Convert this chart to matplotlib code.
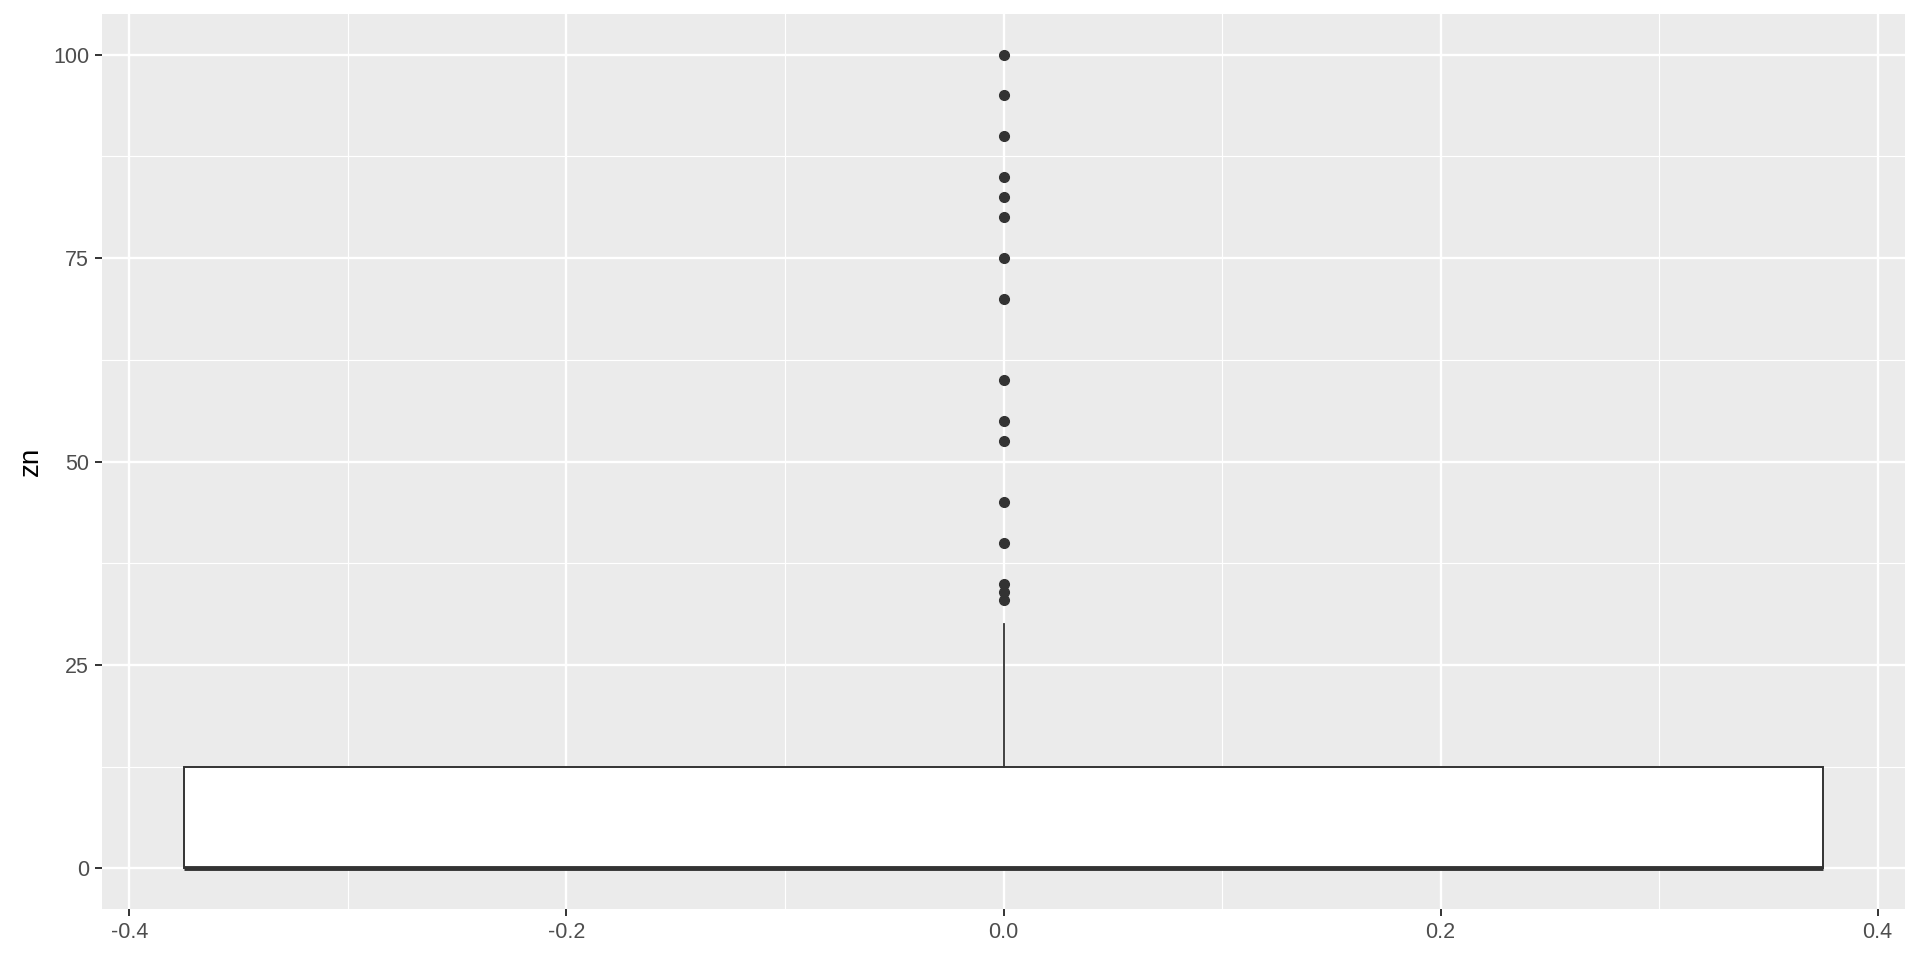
import matplotlib
matplotlib.use("Agg")
import matplotlib.pyplot as plt
from matplotlib.ticker import MultipleLocator

plt.rcParams['font.family'] = ['Liberation Sans', 'DejaVu Sans']

# Summary of zn (box)
q1, median, q3 = 0.0, 0.0, 12.5
whisker_lo, whisker_hi = 0.0, 30.0
outliers = [100, 95, 90, 85, 82.5, 80, 75, 70, 60, 55, 52.5, 45, 40, 35, 34, 33]

x_ticks = [-0.4, -0.2, 0.0, 0.2, 0.4]
x_labels = ["-0.4", "-0.2", "0.0", "0.2", "0.4"]
y_ticks = [0, 25, 50, 75, 100]

fig = plt.figure(figsize=(19.2, 9.6), dpi=100)
ax = fig.add_axes([102 / 1920, 1 - 909 / 960, 1803 / 1920, 895 / 960])
ax.set_facecolor("#EBEBEB")

stats = [dict(q1=q1, med=median, q3=q3, whislo=whisker_lo, whishi=whisker_hi,
              fliers=outliers)]
ax.bxp(stats, positions=[0], widths=0.75, patch_artist=True, showcaps=False,
       boxprops=dict(facecolor="white", edgecolor="#333333", linewidth=1.4),
       medianprops=dict(color="#333333", linewidth=3.5, solid_capstyle="butt"),
       whiskerprops=dict(color="#333333", linewidth=1.3),
       flierprops=dict(marker="o", markerfacecolor="#333333", markeredgecolor="#333333",
                       markersize=7, linestyle="none"),
       zorder=3)

ax.set_xlim(-0.4125, 0.4125)
ax.set_ylim(-5, 105)
ax.set_xticks(x_ticks)
ax.set_xticklabels(x_labels)
ax.set_yticks(y_ticks)
ax.xaxis.set_minor_locator(MultipleLocator(0.1))
ax.yaxis.set_minor_locator(MultipleLocator(12.5))

ax.grid(which="major", color="white", linewidth=1.7)
ax.grid(which="minor", color="white", linewidth=0.8)
ax.set_axisbelow(True)
for s in ax.spines.values():
    s.set_visible(False)

ax.tick_params(which="major", length=5.2, width=1.4, color="#333333",
               labelsize=15.5, labelcolor="#4D4D4D", pad=4)
ax.tick_params(which="minor", length=0)
ax.set_ylabel("zn", fontsize=20, color="black", labelpad=6.5)

fig.savefig("out.png", dpi=100, facecolor="white")
